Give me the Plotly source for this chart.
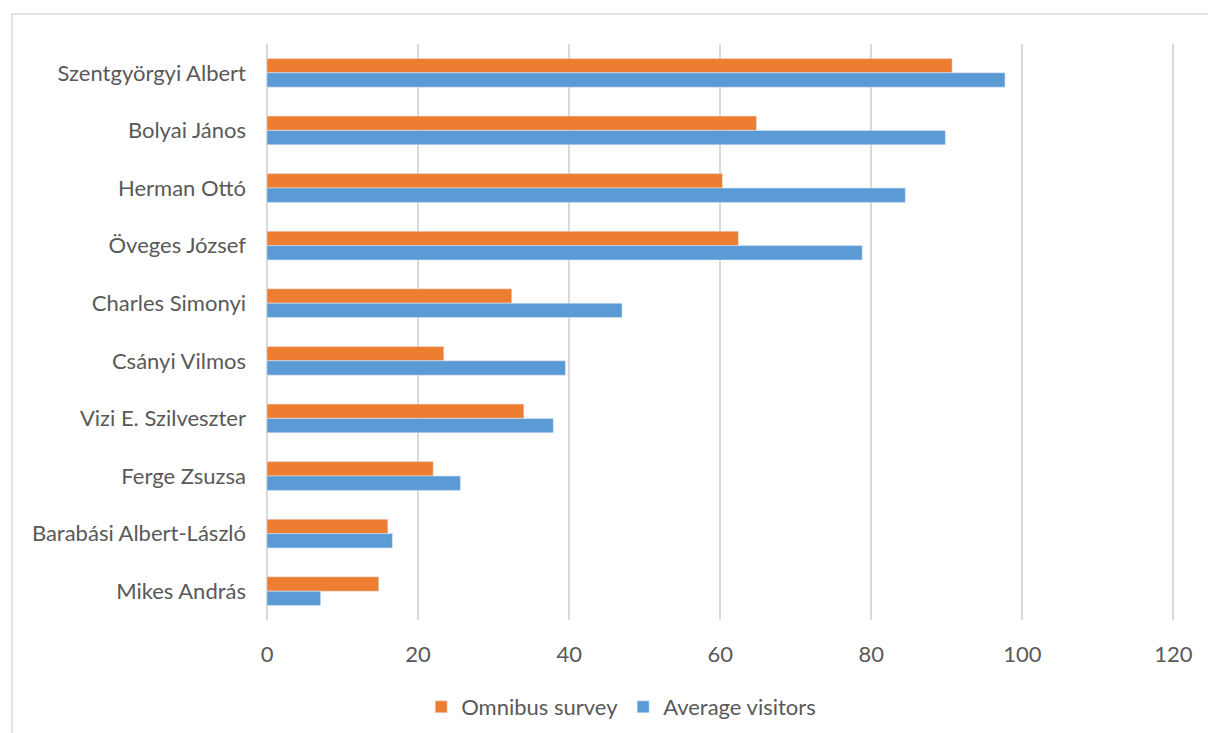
import plotly.graph_objects as go

names = [
    "Szentgyörgyi Albert", "Bolyai János", "Herman Ottó", "Öveges József",
    "Charles Simonyi", "Csányi Vilmos", "Vizi E. Szilveszter", "Ferge Zsuzsa",
    "Barabási Albert-László", "Mikes András",
]
omnibus_survey = [90.7, 64.8, 60.3, 62.4, 32.4, 23.4, 34.0, 22.0, 16.0, 14.8]
average_visitors = [97.7, 89.8, 84.5, 78.8, 47.0, 39.5, 37.9, 25.6, 16.6, 7.1]
x_ticks = [0, 20, 40, 60, 80, 100, 120]

font_family = "Lato, 'Open Sans', sans-serif"
text_color = "#595959"
font_size = 22

fig = go.Figure()
fig.add_trace(go.Bar(
    name="Omnibus survey", y=names, x=omnibus_survey, orientation="h",
    marker=dict(color="#ED7D31"),
))
fig.add_trace(go.Bar(
    name="Average visitors", y=names, x=average_visitors, orientation="h",
    marker=dict(color="#5B9BD5"),
))

W, H = 1208, 733
L, T, B = 267, 44, 113
x_max = 120.2
pw = 906 * x_max / 120
R = W - L - pw
ph = H - T - B

fig.update_layout(
    width=W, height=H,
    margin=dict(l=L, r=R, t=T, b=B, autoexpand=False),
    paper_bgcolor="white", plot_bgcolor="white",
    barmode="group", bargap=0.5, bargroupgap=0,
    font=dict(family=font_family, size=font_size, color=text_color),
    xaxis=dict(
        range=[0, x_max], tickvals=x_ticks, showgrid=True,
        gridcolor="#d9d9d9", gridwidth=1.5, zeroline=True,
        zerolinecolor="#d9d9d9", zerolinewidth=1.5,
        showline=False, ticks="", ticklabelstandoff=19,
        tickfont=dict(size=font_size, color=text_color),
        automargin=False,
    ),
    yaxis=dict(
        autorange="reversed", showgrid=False, zeroline=False,
        showline=False, ticks="", ticklabelstandoff=20,
        tickfont=dict(size=font_size, color=text_color),
        automargin=False,
    ),
    legend=dict(
        orientation="h", x=(621 - L) / pw, xanchor="center",
        y=-(707 - (H - B)) / ph, yanchor="middle",
        font=dict(size=font_size, color=text_color), traceorder="normal",
        itemwidth=30,
    ),
    shapes=[dict(
        type="rect", xref="paper", yref="paper",
        x0=(12 - L) / pw, x1=(1240 - L) / pw,
        y0=1 - (760 - T) / ph, y1=1 + (T - 14) / ph,
        line=dict(color="#d9d9d9", width=1.5), fillcolor="rgba(0,0,0,0)",
        layer="below",
    )],
)

fig.write_html("out.html")
